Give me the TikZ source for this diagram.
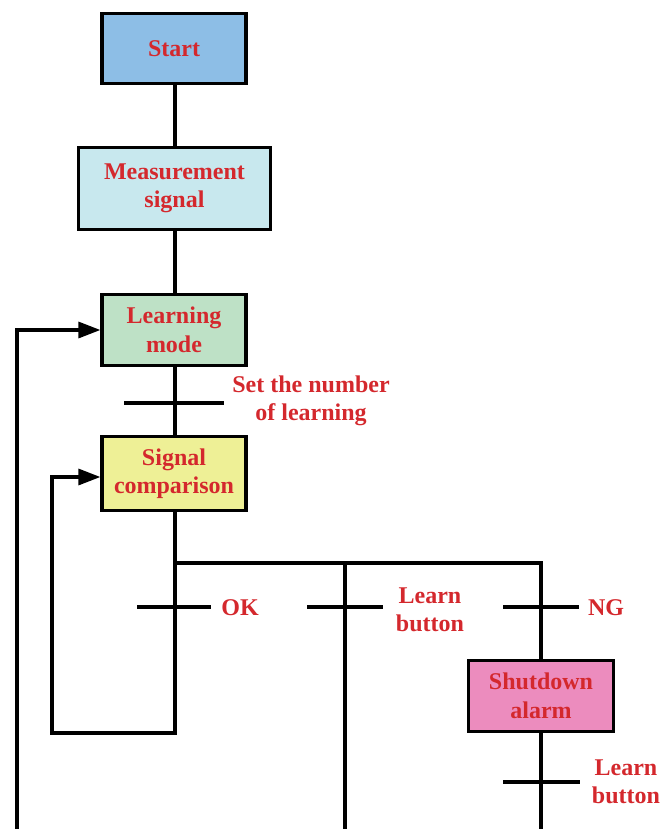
\documentclass[tikz,border=0pt]{standalone}
\usepackage{fontspec}
\setmainfont{Liberation Serif}
\usetikzlibrary{arrows.meta}
\definecolor{txt}{RGB}{212,40,45}
\definecolor{cstart}{RGB}{141,190,230}
\definecolor{cmeas}{RGB}{200,232,238}
\definecolor{clearn}{RGB}{190,225,198}
\definecolor{csig}{RGB}{238,240,150}
\definecolor{cshut}{RGB}{236,140,190}
\begin{document}
\begin{tikzpicture}[x=1pt,y=-1pt,
  box/.style={draw=black, line width=3.2pt, inner sep=0pt, align=center, text=txt,
    font=\fontsize{24}{28.5}\selectfont\bfseries},
  lbl/.style={inner sep=0pt, align=center, text=txt, font=\fontsize{24}{28.5}\selectfont\bfseries},
  conn/.style={line width=3.2pt, line cap=rect},
  arr/.style={line width=3.2pt, -{Triangle[length=22pt,width=16pt]}},
  bar/.style={line width=3.2pt}]
\useasboundingbox (0,0) rectangle (662,829);

\node[box, fill=cstart, minimum width=144pt, minimum height=70pt] (start) at (174,48.5) {Start};
\node[box, fill=cmeas, minimum width=192pt, minimum height=82pt] (meas) at (174.5,188.5) {Measurement\\signal};
\node[box, fill=clearn, minimum width=144pt, minimum height=71pt] (learn) at (174,330) {Learning\\mode};
\node[box, fill=csig, minimum width=144pt, minimum height=74pt] (sig) at (174,473.5) {Signal\\comparison};
\node[box, fill=cshut, minimum width=145pt, minimum height=71pt] (shut) at (541,696) {Shutdown\\alarm};

\coordinate (j1) at (175,563);
\coordinate (j2) at (345,563);
\coordinate (j3) at (541,563);
\coordinate (b1) at (17,829);
\coordinate (b2) at (345,829);
\coordinate (b3) at (541,829);
\coordinate (c1) at (175,733);
\coordinate (l2) at (52,477);
\coordinate (l1) at (17,330);

\draw[conn] (start.south -| 175,0) -- (meas.north -| 175,0);
\draw[conn] (meas.south -| 175,0) -- (learn.north -| 175,0);
\draw[conn] (learn.south -| 175,0) -- (sig.north -| 175,0);
\draw[conn] (sig.south -| 175,0) -- (j1) -- (j3) -- (shut.north);
\draw[conn] (j2) -- (b2);
\draw[conn] (shut.south) -- (b3);
\draw[arr] (j1) -- (c1) -| (l2) -- (l2 -| sig.west);
\draw[arr] (b1) -- (l1) -- (l1 -| learn.west);

% transition bars
\draw[bar] (124,403) -- (224,403);
\draw[bar] (137,607) -- (211,607);
\draw[bar] (307,607) -- (383,607);
\draw[bar] (503,607) -- (579,607);
\draw[bar] (503,782) -- (580,782);

\node[lbl] (t1) at (311,401) {Set the number\\of learning};
\node[lbl] (t2) at (240,608) {OK};
\node[lbl] (t3) at (430,610) {Learn\\button};
\node[lbl] (t4) at (606,608) {NG};
\node[lbl] (t5) at (626,782) {Learn\\button};
\end{tikzpicture}
\end{document}
